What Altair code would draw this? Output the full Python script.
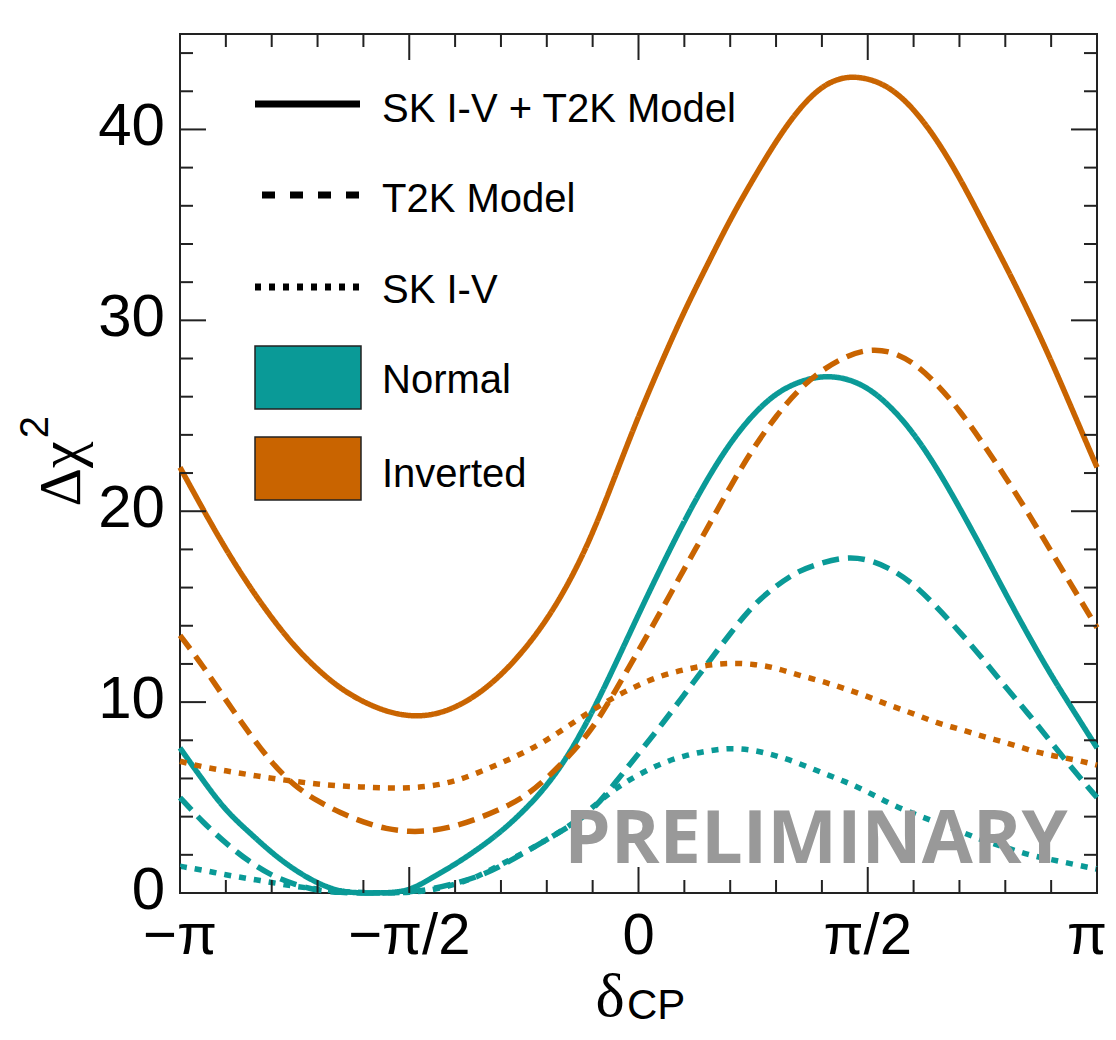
import altair as alt
import pandas as pd

# ---------------- data ----------------
delta_over_pi = [-1.0, -0.95, -0.9, -0.85, -0.8, -0.75, -0.7, -0.65, -0.6, -0.55,
                 -0.5, -0.45, -0.4, -0.35, -0.3, -0.25, -0.2, -0.15, -0.1, -0.05,
                 0.0, 0.05, 0.1, 0.15, 0.2, 0.25, 0.3, 0.35, 0.4, 0.45,
                 0.5, 0.55, 0.6, 0.65, 0.7, 0.75, 0.8, 0.85, 0.9, 0.95, 1.0]

normal_combined = [7.6, 5.9, 4.3, 3.2, 2.1, 1.2, 0.5, 0.05, 0.0, 0.0,
                   0.1, 0.8, 1.5, 2.3, 3.2, 4.3, 5.6, 7.3, 9.5, 12.0,
                   14.6, 17.1, 19.5, 21.7, 23.6, 25.1, 26.2, 26.8, 27.1, 27.0,
                   26.5, 25.5, 24.1, 22.3, 20.2, 18.0, 15.7, 13.5, 11.4, 9.5, 7.6]
normal_t2k = [5.0, 3.7, 2.6, 1.65, 0.9, 0.45, 0.12, 0.02, 0.0, 0.0,
              0.05, 0.2, 0.5, 0.85, 1.4, 2.1, 2.8, 3.5, 4.3, 5.8,
              7.3, 8.8, 10.4, 12.0, 13.6, 15.1, 16.1, 16.9, 17.3, 17.6,
              17.5, 17.0, 16.2, 15.0, 13.7, 12.3, 10.8, 9.4, 7.9, 6.4, 5.0]
normal_sk = [1.4, 1.2, 0.95, 0.75, 0.55, 0.35, 0.2, 0.08, 0.02, 0.0,
             0.03, 0.15, 0.45, 0.85, 1.5, 2.1, 2.8, 3.5, 4.5, 5.5,
             6.2, 6.8, 7.2, 7.45, 7.6, 7.5, 7.2, 6.8, 6.3, 5.85,
             5.3, 4.65, 4.15, 3.7, 3.25, 2.75, 2.4, 2.0, 1.75, 1.5, 1.25]
inverted_combined = [22.3, 20.1, 18.0, 16.1, 14.4, 12.9, 11.7, 10.7, 10.0, 9.5,
                     9.25, 9.3, 9.7, 10.4, 11.4, 12.7, 14.3, 16.3, 18.8, 21.9,
                     25.0, 27.8, 30.5, 32.9, 35.3, 37.4, 39.4, 41.1, 42.3, 42.8,
                     42.7, 42.2, 41.1, 39.5, 37.5, 35.2, 32.9, 30.5, 27.9, 25.1, 22.3]
inverted_t2k = [13.5, 11.9, 10.1, 8.4, 6.8, 5.6, 4.8, 4.2, 3.7, 3.35,
                3.2, 3.25, 3.5, 3.9, 4.4, 5.0, 6.0, 7.2, 8.6, 10.6,
                12.7, 14.8, 17.0, 19.1, 21.3, 23.3, 25.0, 26.4, 27.4, 28.1,
                28.5, 28.4, 27.8, 26.7, 25.3, 23.6, 21.8, 19.9, 17.9, 15.9, 13.9]
inverted_sk = [6.9, 6.6, 6.4, 6.2, 6.0, 5.85, 5.7, 5.6, 5.55, 5.5,
               5.5, 5.6, 5.85, 6.3, 6.8, 7.35, 8.0, 8.8, 9.6, 10.3,
               10.9, 11.4, 11.7, 11.95, 12.05, 12.0, 11.8, 11.4, 11.1, 10.7,
               10.3, 9.8, 9.4, 8.9, 8.6, 8.2, 7.9, 7.5, 7.2, 7.0, 6.7]

hierarchies = ["Normal", "Inverted"]
analyses = ["SK I-V + T2K Model", "T2K Model", "SK I-V"]

x_major_ticks = [-1.0, -0.5, 0.0, 0.5, 1.0]
x_tick_labels = ["\u2212\u03c0", "\u2212\u03c0/2", "0", "\u03c0/2", "\u03c0"]
x_minor_ticks = [-0.9, -0.8, -0.7, -0.6, -0.4, -0.3, -0.2, -0.1,
                 0.1, 0.2, 0.3, 0.4, 0.6, 0.7, 0.8, 0.9]
y_major_ticks = [0, 10, 20, 30, 40]
y_tick_labels = ["0", "10", "20", "30", "40"]
y_minor_ticks = [2, 4, 6, 8, 12, 14, 16, 18, 22, 24, 26, 28, 32, 34, 36, 38, 42, 44]

# ---------------- build table ----------------
series = {
    ("Normal", "SK I-V + T2K Model"): normal_combined,
    ("Normal", "T2K Model"): normal_t2k,
    ("Normal", "SK I-V"): normal_sk,
    ("Inverted", "SK I-V + T2K Model"): inverted_combined,
    ("Inverted", "T2K Model"): inverted_t2k,
    ("Inverted", "SK I-V"): inverted_sk,
}
rows = []
for (h, a), vals in series.items():
    for t, v in zip(delta_over_pi, vals):
        rows.append({"t": t, "chi2": v, "hierarchy": h, "analysis": a, "grp": h + a})
df = pd.DataFrame(rows)

# ---------------- style ----------------
W, H = 917, 859
TEAL = "#0a9a97"
ORANGE = "#c96400"
SANS = "Liberation Sans"
SERIF = "Liberation Serif"
DASHES = [[1, 0], [17, 9], [7, 8]]
TICK = "#222222"

xs = alt.Scale(domain=[-1, 1], nice=False, zero=False)
ys = alt.Scale(domain=[0, 45], nice=False, zero=False)

curves = alt.Chart(df).mark_line(strokeWidth=5.5, interpolate="basis", clip=False).encode(
    x=alt.X("t:Q", scale=xs, axis=None),
    y=alt.Y("chi2:Q", scale=ys, axis=None),
    color=alt.Color("hierarchy:N", scale=alt.Scale(domain=hierarchies, range=[TEAL, ORANGE]), legend=None),
    strokeDash=alt.StrokeDash("analysis:N", scale=alt.Scale(domain=analyses, range=DASHES), legend=None),
    detail="grp:N",
)


def xticks(vals, length):
    d = pd.DataFrame({"v": vals})
    bottom = alt.Chart(d).mark_rule(color=TICK, strokeWidth=2).encode(
        x=alt.X("v:Q", scale=xs, axis=None), y=alt.value(H), y2=alt.value(H - length))
    top = alt.Chart(d).mark_rule(color=TICK, strokeWidth=2).encode(
        x=alt.X("v:Q", scale=xs, axis=None), y=alt.value(0), y2=alt.value(length))
    return [bottom, top]


def yticks(vals, length):
    d = pd.DataFrame({"v": vals})
    left = alt.Chart(d).mark_rule(color=TICK, strokeWidth=2).encode(
        y=alt.Y("v:Q", scale=ys, axis=None), x=alt.value(0), x2=alt.value(length))
    right = alt.Chart(d).mark_rule(color=TICK, strokeWidth=2).encode(
        y=alt.Y("v:Q", scale=ys, axis=None), x=alt.value(W), x2=alt.value(W - length))
    return [left, right]


ticks = xticks(x_major_ticks, 26) + xticks(x_minor_ticks, 13) + \
    yticks(y_major_ticks, 26) + yticks(y_minor_ticks, 13)

# x tick labels: all but the last centred; the last one kept inside the canvas
x_labels = alt.Chart(pd.DataFrame({"v": x_major_ticks[:-1], "label": x_tick_labels[:-1]})).mark_text(
    fontSize=58, font=SANS, align="center", baseline="top", color="black").encode(
    x=alt.X("v:Q", scale=xs, axis=None), y=alt.value(H + 15), text="label:N")
x_label_last = alt.Chart(pd.DataFrame({"v": x_major_ticks[-1:], "label": x_tick_labels[-1:]})).mark_text(
    fontSize=58, font=SANS, align="right", baseline="top", color="black", dx=10).encode(
    x=alt.X("v:Q", scale=xs, axis=None), y=alt.value(H + 15), text="label:N")
y_labels = alt.Chart(pd.DataFrame({"v": y_major_ticks, "label": y_tick_labels})).mark_text(
    fontSize=60, font=SANS, align="right", baseline="middle", color="black", dy=-2).encode(
    y=alt.Y("v:Q", scale=ys, axis=None), x=alt.value(-15), text="label:N")


def text(label, x, y, size, font=SANS, angle=0, align="left", color="black", weight="normal"):
    return alt.Chart(pd.DataFrame({"label": [label]})).mark_text(
        fontSize=size, font=font, angle=angle, align=align, baseline="alphabetic",
        color=color, fontWeight=weight).encode(
        text="label:N", x=alt.value(x), y=alt.value(y))


# legend
leg = []
leg_line_y = [70, 161, 253]
leg_dash = [[1, 0], [13, 15], [6, 8]]
leg_text_base = [88, 178, 269, 359, 453]
for i, a in enumerate(analyses):
    leg.append(alt.Chart(pd.DataFrame({"label": [a]})).mark_rule(
        color="black", strokeWidth=7, strokeDash=leg_dash[i]).encode(
        x=alt.value(75 if i != 1 else 82), x2=alt.value(180), y=alt.value(leg_line_y[i])))
    leg.append(text(a, 202, leg_text_base[i], 40))
box_y = [(312, 375), (403, 466)]
for i, (h, col) in enumerate(zip(hierarchies, [TEAL, ORANGE])):
    leg.append(alt.Chart(pd.DataFrame({"label": [h]})).mark_rect(
        fill=col, stroke=TICK, strokeWidth=1.5).encode(
        x=alt.value(75), x2=alt.value(181), y=alt.value(box_y[i][0]), y2=alt.value(box_y[i][1])))
    leg.append(text(h, 202, leg_text_base[3 + i], 40))

annotations = [
    text("PRELIMINARY", 636, 829, 74, font="Open Sans", align="center", color="#999999", weight="bold"),
    text("\u03b4", 430, 982, 62, font=SERIF, align="center"),
    text("CP", 447, 985, 42, font=SANS, align="left"),
    text("\u0394\u03c7", -100, 440, 60, font=SERIF, angle=270, align="center"),
    text("2", -132, 393, 40, font=SANS, angle=270, align="center"),
]

chart = alt.layer(curves, *ticks, x_labels, x_label_last, y_labels, *leg, *annotations).properties(
    width=W, height=H,
    autosize=alt.AutoSizeParams(type="none"),
    padding={"left": 172, "top": 26, "right": 11, "bottom": 135},
    background="white",
).configure_view(stroke=TICK, strokeWidth=2)

chart.save("out.html", embed_options={"renderer": "svg", "actions": False})
